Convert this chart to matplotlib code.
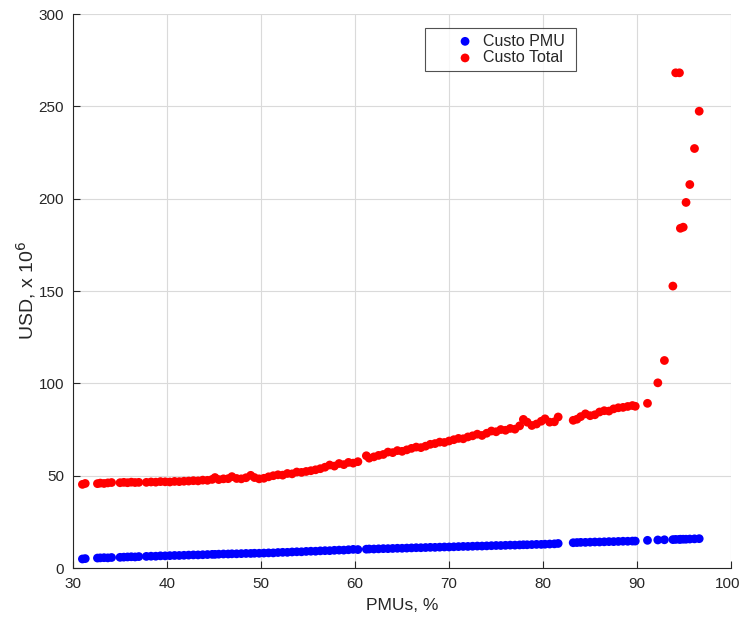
import numpy as np
import matplotlib
matplotlib.use("Agg")
import matplotlib.pyplot as plt
from matplotlib.transforms import ScaledTranslation

plt.rcParams['font.family'] = ['Liberation Sans', 'DejaVu Sans']

# percentual de PMUs instaladas
pmu_pct = [31.0, 31.3, 32.6, 32.9, 33.3, 33.7, 34.1, 35.0, 35.4, 35.8, 36.2, 36.6, 37.0,
           37.8, 38.3, 38.8, 39.3, 39.8, 40.3, 40.8, 41.3, 41.8, 42.3, 42.8, 43.3, 43.8,
           44.3, 44.8, 45.1, 45.5, 46.0, 46.5, 46.9, 47.4, 47.9, 48.4, 48.9, 49.3, 49.8,
           50.3, 50.8, 51.3, 51.8, 52.3, 52.8, 53.3, 53.8, 54.3, 54.8, 55.3, 55.8, 56.3,
           56.8, 57.3, 57.8, 58.3, 58.8, 59.3, 59.8, 60.3,
           61.2, 61.5, 62.0, 62.5, 63.0, 63.5, 64.0, 64.5, 65.0, 65.5, 66.0, 66.5, 67.0,
           67.5, 68.0, 68.5, 69.0, 69.5, 70.0, 70.5, 71.0, 71.5, 72.0, 72.5, 73.0, 73.5,
           74.0, 74.5, 75.0, 75.5, 76.0, 76.5, 77.0, 77.5, 77.9, 78.3, 78.8, 79.3, 79.8,
           80.2, 80.7, 81.2, 81.6,
           83.2, 83.6, 84.0, 84.5, 85.0, 85.5, 86.0, 86.5, 87.0, 87.5, 88.0, 88.5, 89.0,
           89.5, 89.8,
           91.1, 92.2, 92.9, 93.8, 94.1, 94.5, 94.6, 94.9, 95.2, 95.6, 96.1, 96.6]

# custo das PMUs (USD x 10^6)
custo_pmu = [4.9, 5.1, 5.4, 5.5, 5.6, 5.5, 5.7, 5.8, 5.9, 6.0, 6.1, 6.0, 6.2,
             6.3, 6.4, 6.4, 6.6, 6.6, 6.7, 6.8, 6.8, 6.9, 7.0, 7.1, 7.1, 7.2,
             7.3, 7.4, 7.4, 7.5, 7.6, 7.6, 7.7, 7.7, 7.8, 7.9, 7.9, 8.0, 8.0,
             8.1, 8.2, 8.2, 8.4, 8.5, 8.5, 8.7, 8.8, 8.8, 9.0, 9.1, 9.1, 9.3,
             9.4, 9.4, 9.6, 9.7, 9.7, 9.9, 10.1, 10.0,
             10.2, 10.3, 10.3, 10.4, 10.5, 10.5, 10.6, 10.7, 10.7, 10.8, 10.9, 11.0, 11.0,
             11.1, 11.2, 11.2, 11.3, 11.4, 11.4, 11.5, 11.6, 11.7, 11.7, 11.8, 11.9, 11.9,
             12.0, 12.1, 12.2, 12.2, 12.3, 12.4, 12.4, 12.5, 12.6, 12.6, 12.7, 12.8, 12.8,
             12.9, 13.0, 13.1, 13.3,
             13.7, 13.8, 13.9, 13.9, 14.0, 14.1, 14.1, 14.2, 14.3, 14.3, 14.4, 14.5, 14.5,
             14.6, 14.6,
             15.0, 15.2, 15.3, 15.4, 15.5, 15.5, 15.6, 15.6, 15.6, 15.7, 15.8, 15.9]

# custo total (USD x 10^6)
custo_total = [45.3, 45.8, 45.7, 46.0, 45.8, 46.1, 46.3, 46.2, 46.4, 46.2, 46.5, 46.3, 46.4,
               46.4, 46.6, 46.5, 46.8, 46.7, 46.6, 46.9, 46.8, 47.0, 47.1, 47.3, 47.2, 47.6,
               47.5, 48.0, 49.0, 47.9, 48.3, 48.4, 49.5, 48.5, 48.3, 48.9, 50.2, 49.0, 48.3,
               48.6, 49.4, 50.0, 50.5, 50.3, 51.2, 51.0, 52.0, 51.8, 52.3, 52.7, 53.2, 53.8,
               54.6, 55.8, 55.2, 56.6, 56.0, 57.2, 56.8, 57.6,
               60.8, 59.5, 60.2, 61.0, 61.5, 62.8, 62.5, 63.6, 63.2, 64.0, 64.8, 65.5, 65.2,
               66.0, 67.0, 67.4, 68.2, 68.0, 68.8, 69.5, 70.2, 70.0, 71.0, 71.6, 72.5, 71.8,
               73.0, 74.2, 73.8, 75.0, 74.6, 75.6, 75.2, 77.0, 80.5, 79.0, 77.2, 78.0, 79.5,
               80.8, 79.0, 79.2, 81.8,
               80.0, 80.6, 82.0, 83.5, 82.5, 83.0, 84.5, 85.2, 85.0, 86.2, 86.8, 87.0, 87.5,
               88.0, 87.6,
               89.2, 100.3, 112.4, 152.7, 268.2, 268.2, 184.0, 184.6, 198.0, 207.7, 227.2, 247.4]

txt = '#262626'

fig = plt.figure(figsize=(7.42, 6.21), dpi=100)
ax = fig.add_axes([0.0984, 0.0853, 0.887, 0.892])

ax.scatter(pmu_pct, custo_pmu, s=40, c='#0000ff', edgecolors='none', label='Custo PMU', zorder=3)
ax.scatter(pmu_pct, custo_total, s=40, c='#ff0000', edgecolors='none', label='Custo Total', zorder=3)

ax.set_xlim(30, 100)
ax.set_ylim(0, 300)
ax.set_xticks(np.arange(30, 101, 10))
ax.set_yticks(np.arange(0, 301, 50))
ax.grid(True, color='#dadada', linewidth=0.8)
ax.set_axisbelow(True)

for side in ['top', 'right']:
    ax.spines[side].set_visible(False)
for side in ['left', 'bottom']:
    ax.spines[side].set_color(txt)
    ax.spines[side].set_linewidth(0.8)

ax.tick_params(direction='in', length=5, width=0.8, color=txt,
               labelcolor=txt, labelsize=11, pad=6.5)
ax.set_xlabel('PMUs, %', fontsize=12.5, color=txt, labelpad=5)
ax.set_ylabel('USD, x 10$^6$', fontsize=14, color=txt, labelpad=0)

# o rótulo "100" fica na borda da figura: puxa um pouco para dentro
fig.canvas.draw()
last = ax.get_xticklabels()[-1]
last.set_transform(last.get_transform() + ScaledTranslation(-2.5 / 72, 0, fig.dpi_scale_trans))

# caixa da legenda esticada na largura, com o texto colado ao marcador
leg = ax.legend(loc='upper left', bbox_to_anchor=(0.535, 0.975, 0.229, 0.0), mode='expand',
                fontsize=11.5, frameon=True, fancybox=False, edgecolor=txt,
                borderpad=0.35, handlelength=4.3, handletextpad=-1.0,
                labelspacing=0.1, borderaxespad=0.0)
leg.get_frame().set_linewidth(0.8)
for t in leg.get_texts():
    t.set_color(txt)

fig.savefig('out.png', dpi=100)
